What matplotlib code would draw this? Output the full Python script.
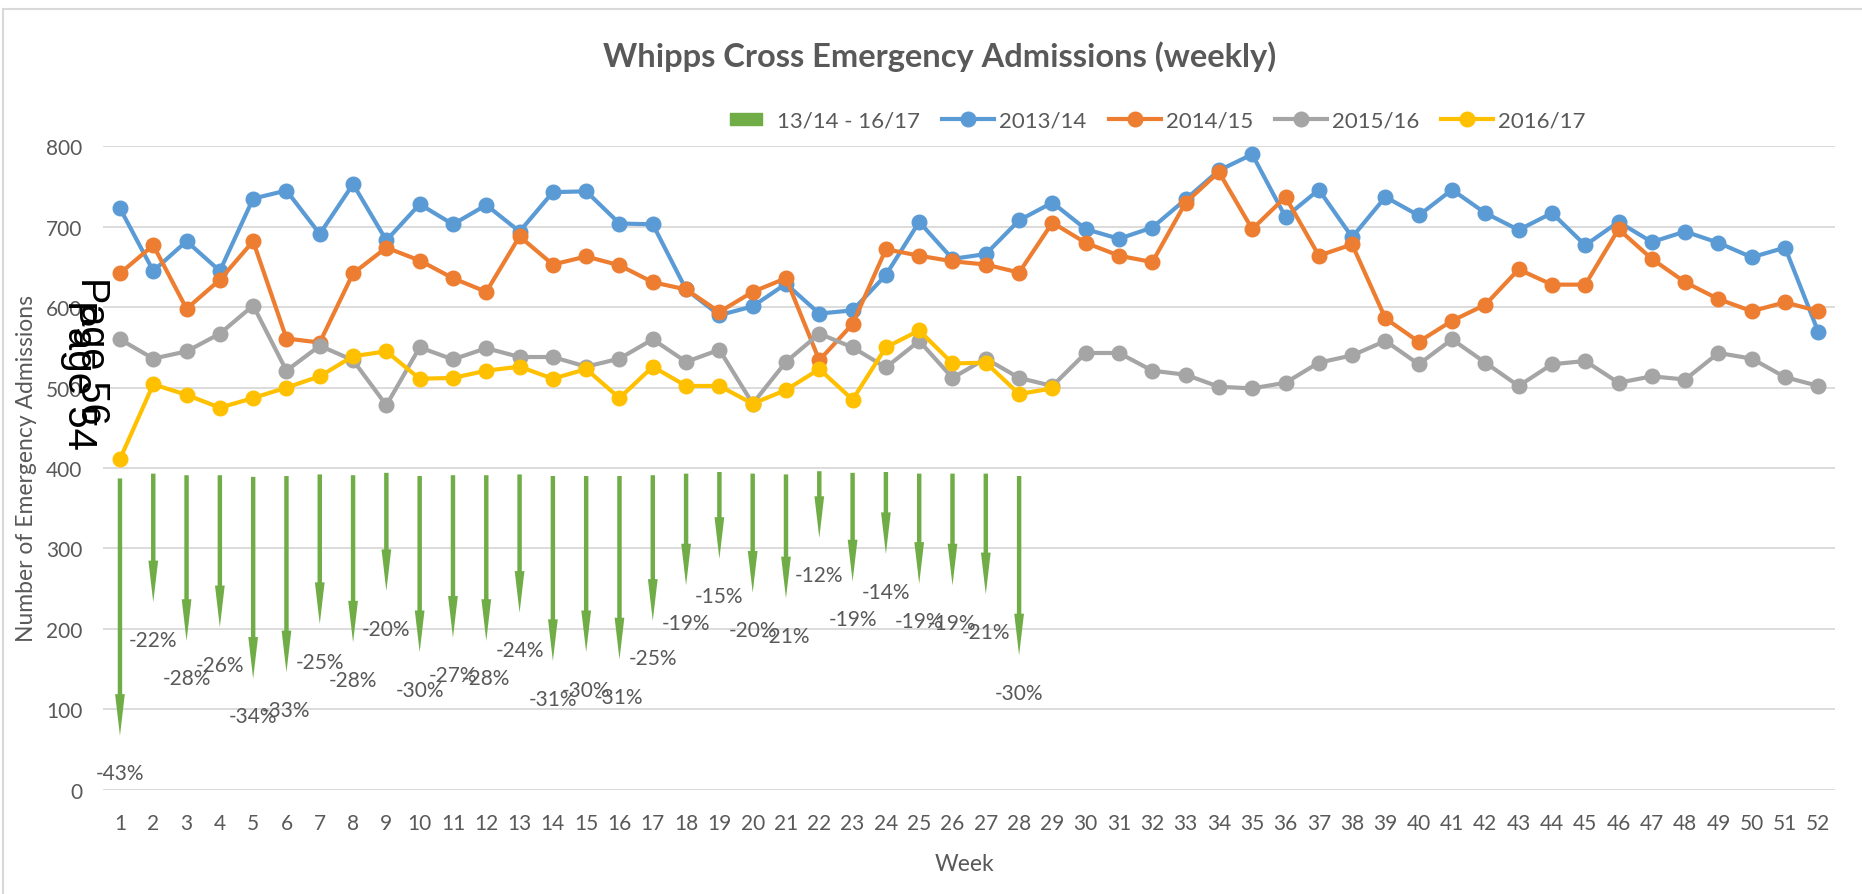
import matplotlib
matplotlib.use("Agg")
import matplotlib.pyplot as plt
from matplotlib.lines import Line2D
from matplotlib.patches import Rectangle
from matplotlib.path import Path

TEXT_GREY = '#595959'
GRID_GREY = '#D9D9D9'
GREEN = '#70AD47'
SERIES_COLOURS = ['#5B9BD5', '#ED7D31', '#A5A5A5', '#FFC000']

plt.rcParams['font.family'] = ['Lato', 'DejaVu Sans']

weeks = list(range(1, 53))
season_labels = ['2013/14', '2014/15', '2015/16', '2016/17']
change_label = '13/14 - 16/17'

adm_2013_14 = [723, 645, 682, 645, 735, 745, 691, 753, 683, 728,
               703, 727, 694, 743, 744, 704, 703, 622, 590, 601,
               629, 592, 596, 640, 706, 660, 666, 708, 730, 697,
               685, 699, 734, 770, 790, 712, 746, 687, 737, 714,
               746, 717, 696, 717, 677, 706, 681, 694, 680, 662,
               674, 569]
adm_2014_15 = [642, 677, 598, 634, 682, 561, 556, 642, 674, 658,
               636, 619, 688, 653, 663, 652, 631, 622, 594, 619,
               636, 534, 579, 672, 664, 657, 653, 643, 705, 680,
               664, 656, 730, 768, 697, 737, 664, 678, 586, 557,
               583, 603, 647, 628, 628, 697, 660, 631, 610, 595,
               606, 595]
adm_2015_16 = [560, 536, 545, 567, 602, 521, 552, 534, 478, 550,
               535, 549, 538, 538, 526, 536, 560, 532, 547, 480,
               532, 567, 550, 525, 558, 512, 536, 512, 502, 543,
               543, 521, 516, 501, 499, 506, 531, 540, 558, 529,
               560, 531, 502, 529, 533, 506, 514, 510, 543, 536,
               513, 502]
adm_2016_17 = [411, 504, 491, 475, 487, 500, 514, 539, 545, 511,
               512, 521, 526, 511, 523, 487, 526, 502, 502, 480,
               497, 523, 485, 550, 571, 530, 531, 492, 499]

# change 13/14 -> 16/17, drawn as arrows (start and end value)
change_weeks = list(range(1, 29))
change_top = [387, 393, 391, 391, 389, 390, 392, 391, 394, 390,
              391, 391, 392, 390, 390, 390, 391, 393, 395, 393,
              392, 396, 394, 395, 393, 393, 393, 390]
change_tip = [67, 233, 185, 202, 138, 146, 206, 183, 247, 171,
              189, 185, 220, 160, 171, 162, 210, 254, 287, 245,
              238, 313, 259, 293, 256, 254, 243, 167]
change_pct = [-43, -22, -28, -26, -34, -33, -25, -28, -20, -30,
              -27, -28, -24, -31, -30, -31, -25, -19, -15, -20,
              -21, -12, -19, -14, -19, -19, -21, -30]

W, H = 1862, 895
fig = plt.figure(figsize=(W / 100, H / 100), dpi=100)
ax = fig.add_axes([103.3 / W, 1 - 790.7 / H, 1731.7 / W, 643.4 / H])

for w, top, tip, pct in zip(change_weeks, change_top, change_tip, change_pct):
    ax.annotate('', xy=(w, tip), xytext=(w, top),
                arrowprops=dict(arrowstyle='simple,head_length=3.0,head_width=0.7,tail_width=0.32',
                                facecolor=GREEN, edgecolor='none', lw=0,
                                shrinkA=0, shrinkB=0, mutation_scale=10))
    ax.annotate(f'{pct}%', xy=(w, tip), xytext=(0, -27), textcoords='offset points',
                ha='center', va='center', fontsize=15, color=TEXT_GREY)

series = [adm_2013_14, adm_2014_15, adm_2015_16, adm_2016_17]
for values, colour, label in zip(series, SERIES_COLOURS, season_labels):
    ax.plot(weeks[:len(values)], values, color=colour, lw=3.0, marker='o',
            markersize=10.5, label=label, clip_on=False, zorder=3)

ax.set_xlim(0.5, 52.5)
ax.set_ylim(0, 800)
ax.set_xticks(weeks)
ax.set_yticks(range(0, 801, 100))
ax.tick_params(length=0, labelsize=15, labelcolor=TEXT_GREY)
ax.tick_params(axis='y', pad=15)
ax.tick_params(axis='x', pad=17)
ax.yaxis.grid(True, color=GRID_GREY, lw=1.3)
ax.set_axisbelow(True)
for spine in ax.spines.values():
    spine.set_visible(False)

fig.text(940 / W, 1 - 57 / H, 'Whipps Cross Emergency Admissions (weekly)',
         ha='center', va='center', fontsize=23.5, fontweight='bold', color=TEXT_GREY)
fig.text(27 / W, 1 - 469 / H, 'Number of Emergency Admissions', rotation=90,
         ha='center', va='center', fontsize=16.5, color=TEXT_GREY)
fig.text(964 / W, 1 - 865 / H, 'Week', ha='center', va='center',
         fontsize=16.5, color=TEXT_GREY)

# overlapping page stamps
fig.text(92 / W, 1 - 351 / H, 'Page 56', rotation=-90, ha='center', va='center',
         fontsize=28.5, color='black', family=['Liberation Sans', 'DejaVu Sans'])
fig.text(79 / W, 1 - 375 / H, 'Page 54', rotation=-90, ha='center', va='center',
         fontsize=29, color='black', family=['Liberation Sans', 'DejaVu Sans'])

rect_marker = Path([(-2.6, -1), (2.6, -1), (2.6, 1), (-2.6, 1), (-2.6, -1)])
handles = [Line2D([], [], color=GREEN, marker=rect_marker, markersize=23, linestyle='none')]
for colour in SERIES_COLOURS:
    handles.append(Line2D([], [], color=colour, lw=3.0, marker='o', markersize=10.5))
fig.legend(handles, [change_label] + season_labels, loc='center',
           bbox_to_anchor=(1153 / W, 1 - 122 / H), ncol=5, frameon=False,
           fontsize=16, handlelength=2.34, handletextpad=0.22, columnspacing=1.0,
           labelcolor=TEXT_GREY)

fig.patches.append(Rectangle((3 / W, -0.05), 1.1, 1 - 10 / H + 0.05, transform=fig.transFigure,
                             fill=False, edgecolor=GRID_GREY, lw=1.5))

fig.savefig('out.png', dpi=100)
